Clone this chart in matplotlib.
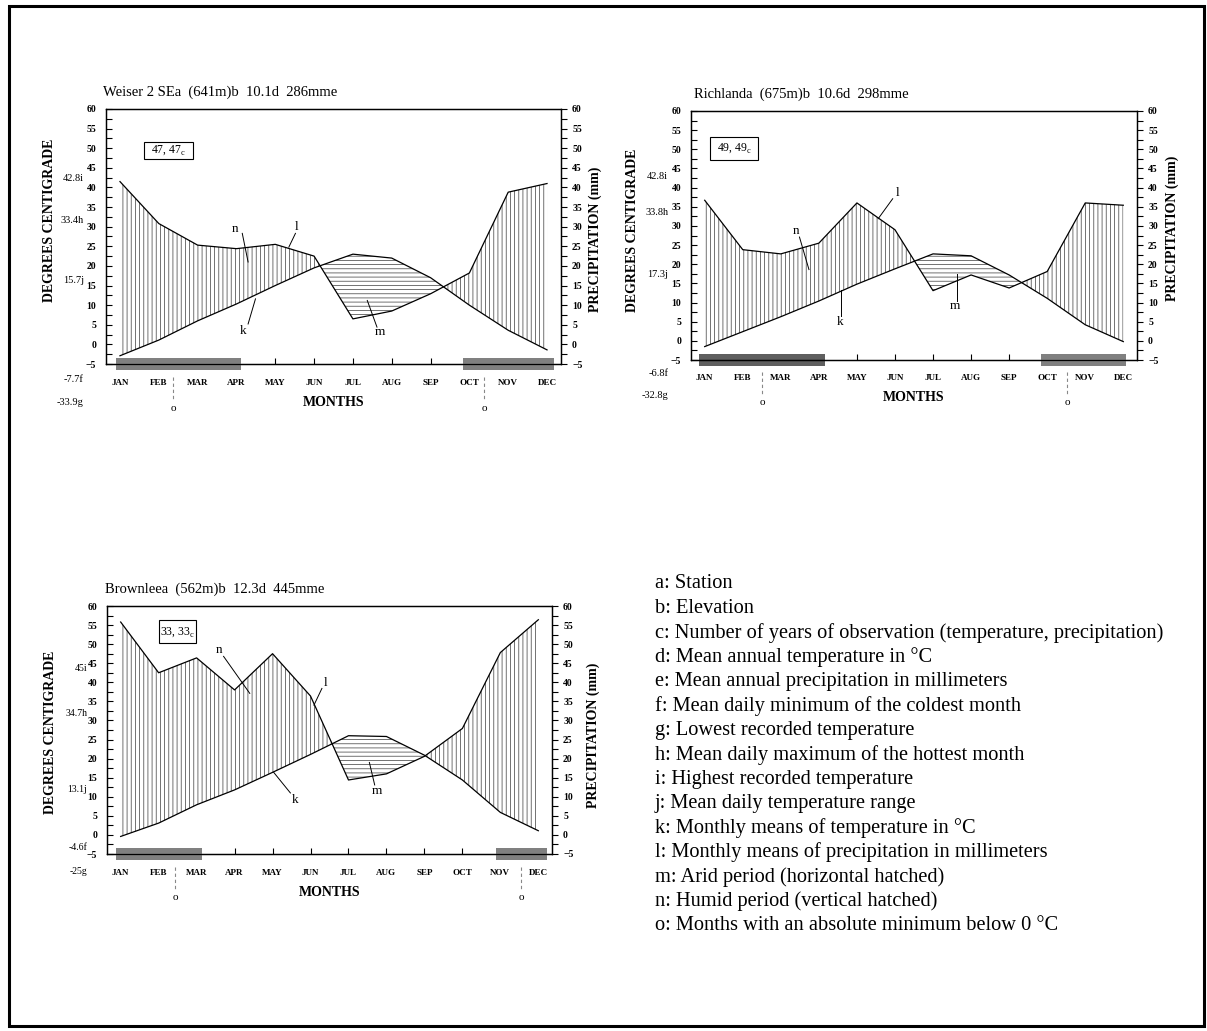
import matplotlib
matplotlib.use('Agg')
import matplotlib.pyplot as plt
from matplotlib.ticker import MultipleLocator
from matplotlib.patches import Rectangle
import numpy as np

plt.rcParams['font.family'] = ['Liberation Serif', 'DejaVu Serif']
plt.rcParams['mathtext.fontset'] = 'custom'
plt.rcParams['mathtext.rm'] = 'Liberation Serif'
plt.rcParams['hatch.linewidth'] = 0.6

W, H = 1207, 1031

# ---------------- data ----------------
months = ['JAN', 'FEB', 'MAR', 'APR', 'MAY', 'JUN', 'JUL', 'AUG', 'SEP', 'OCT', 'NOV', 'DEC']

weiser_temp = [-2.9, 1.1, 6.0, 10.3, 15.0, 19.5, 23.0, 22.0, 17.0, 10.0, 3.6, -1.4]
weiser_precip = [41.5, 30.8, 25.3, 24.4, 25.5, 22.5, 6.5, 8.5, 12.9, 18.2, 38.8, 41.0]
weiser_title = "Weiser 2 SEa  (641m)b  10.1d  286mme"
weiser_years = "47, 47"
weiser_side = ["42.8i", "33.4h", "15.7j", "-7.7f", "-33.9g"]

richland_temp = [-1.5, 2.4, 6.3, 10.4, 14.8, 18.8, 22.7, 22.2, 17.2, 11.1, 4.2, -0.2]
richland_precip = [36.7, 23.8, 22.7, 25.5, 36.0, 29.0, 13.1, 17.2, 13.8, 18.1, 36.0, 35.4]
richland_title = "Richlanda  (675m)b  10.6d  298mme"
richland_years = "49, 49"
richland_side = ["42.8i", "33.8h", "17.3j", "-6.8f", "-32.8g"]

brownlee_temp = [-0.4, 3.1, 7.9, 11.8, 16.4, 21.1, 26.0, 25.8, 20.9, 14.4, 5.9, 1.1]
brownlee_precip = [55.8, 42.5, 46.4, 38.0, 47.5, 36.4, 14.4, 16.0, 20.6, 27.9, 47.8, 56.4]
brownlee_title = "Brownleea  (562m)b  12.3d  445mme"
brownlee_years = "33, 33"
brownlee_side = ["45i", "34.7h", "13.1j", "-4.6f", "-25g"]

legend_lines = [
    "a: Station",
    "b: Elevation",
    "c: Number of years of observation (temperature, precipitation)",
    "d: Mean annual temperature in \u00b0C",
    "e: Mean annual precipitation in millimeters",
    "f: Mean daily minimum of the coldest month",
    "g: Lowest recorded temperature",
    "h: Mean daily maximum of the hottest month",
    "i: Highest recorded temperature",
    "j: Mean daily temperature range",
    "k: Monthly means of temperature in \u00b0C",
    "l: Monthly means of precipitation in millimeters",
    "m: Arid period (horizontal hatched)",
    "n: Humid period (vertical hatched)",
    "o: Months with an absolute minimum below 0 \u00b0C",
]

fig = plt.figure(figsize=(W / 100, H / 100), dpi=100)


def rect_px(l, r, t, b):
    return [l / W, 1 - b / H, (r - l) / W, (b - t) / H]


def draw_chart(rect, title, temp, precip, years, box, side, side_x, side_y, side_fs,
               bars, markers, annots, lab_pos, label_y, dark_first=False):
    ax = fig.add_axes(rect)
    x = np.arange(12)
    t = np.array(temp, float)
    p = np.array(precip, float)
    ax.set_xlim(-0.36, 11.36)
    ax.set_ylim(-5, 60)
    hc = '#5a5a5a'
    ax.fill_between(x, t, p, where=p >= t, interpolate=True, facecolor='none',
                    edgecolor=hc, hatch='||||', linewidth=0, zorder=1)
    ax.fill_between(x, t, p, where=t >= p, interpolate=True, facecolor='none',
                    edgecolor=hc, hatch='----', linewidth=0, zorder=1)
    ax.plot(x, t, color='black', lw=0.9, zorder=2)
    ax.plot(x, p, color='black', lw=0.9, zorder=2)

    ax.yaxis.set_major_locator(MultipleLocator(5))
    ax.yaxis.set_minor_locator(MultipleLocator(2.5))
    ax.tick_params(axis='y', which='both', direction='in', length=4, width=0.8,
                   labelsize=7, pad=7)
    ax.set_xticks(x)
    ax.set_xticklabels([])
    ax.tick_params(axis='x', direction='in', length=4, width=0.8)
    for lab in ax.get_yticklabels():
        lab.set_fontweight('bold')
    for s in ax.spines.values():
        s.set_linewidth(0.9)

    ax2 = ax.twinx()
    ax2.set_ylim(-5, 60)
    ax2.yaxis.set_major_locator(MultipleLocator(5))
    ax2.yaxis.set_minor_locator(MultipleLocator(2.5))
    ax2.tick_params(axis='y', which='both', direction='out', length=4, width=0.8,
                    labelsize=7, pad=4)
    for lab in ax2.get_yticklabels():
        lab.set_fontweight('bold')
    for s in ax2.spines.values():
        s.set_linewidth(0.9)

    # title
    ax.text(lab_pos[0], 64.3, title, fontsize=10.5, ha='left', va='center', clip_on=False)
    # years box
    bx0, bx1, by0, by1 = box
    ax.add_patch(Rectangle((bx0, by0), bx1 - bx0, by1 - by0, facecolor='white',
                           edgecolor='black', lw=0.8, zorder=5))
    ax.text((bx0 + bx1) / 2, (by0 + by1) / 2, years + r"$_{\rm c}$", fontsize=8.5,
            ha='center', va='center', zorder=6)
    # side annotations
    for s, yy in zip(side, side_y):
        ax.text(side_x, yy, s, fontsize=side_fs, ha='right', va='center', clip_on=False)
    # month labels
    for i, m in enumerate(months):
        ax.text(i, label_y, m, fontsize=6.5, fontweight='bold', ha='center',
                va='center', clip_on=False)
    ax.text(5.5, label_y - 5.0, 'MONTHS', fontsize=10, fontweight='bold',
            ha='center', va='center', clip_on=False)
    # frost bars
    for j, (b0, b1) in enumerate(bars):
        col = '#5f5f5f' if (dark_first and j == 0) else '#808080'
        z = 2 if (dark_first and j == 0) else 3
        ax.add_patch(Rectangle((b0, -6.6), b1 - b0, 3.2, facecolor=col, edgecolor='none',
                               clip_on=False, zorder=z))
    # frost markers
    for mx in markers:
        ax.plot([mx, mx], [label_y + 1.6, label_y - 4.4], color='#888888', lw=0.8,
                linestyle=(0, (3, 2.5)), clip_on=False)
        ax.text(mx, label_y - 6.4, 'o', fontsize=8, ha='center', va='center',
                clip_on=False)
    # labelled leaders
    for lab, tx, ty, x0, y0, x1, y1 in annots:
        ax.text(tx, ty, lab, fontsize=9.5, ha='center', va='center', zorder=6)
        ax.plot([x0, x1], [y0, y1], color='black', lw=0.7, zorder=6)
    # axis titles
    ax.text(lab_pos[1], lab_pos[2], 'DEGREES CENTIGRADE', transform=ax.transAxes,
            rotation=90, fontsize=10, fontweight='bold', ha='center', va='center')
    ax.text(lab_pos[3], lab_pos[4], 'PRECIPITATION (mm)', transform=ax.transAxes,
            rotation=90, fontsize=10, fontweight='bold', ha='center', va='center')
    return ax


# Weiser
draw_chart(rect_px(106, 561, 109, 364), weiser_title, weiser_temp, weiser_precip,
           weiser_years, (0.62, 1.89, 47.2, 51.7), weiser_side, -0.93,
           [42.4, 31.7, 16.4, -8.9, -14.7], 7.5,
           [(-0.11, 3.12), (8.84, 11.19)], [1.37, 9.38],
           [('n', 2.96, 29.5, 3.15, 28.3, 3.3, 21.0),
            ('l', 4.56, 29.8, 4.52, 28.3, 4.35, 24.8),
            ('k', 3.18, 3.5, 3.3, 5.2, 3.49, 11.6),
            ('m', 6.69, 3.1, 6.62, 4.4, 6.37, 11.2)],
           (-0.44, -0.125, 0.565, 1.075, 0.49), -9.85)

# Richland
draw_chart(rect_px(691, 1137, 111, 360), richland_title, richland_temp, richland_precip,
           richland_years, (0.15, 1.41, 47.1, 53.3), richland_side, -0.96,
           [42.8, 33.6, 17.3, -8.4, -14.2], 7.5,
           [(-0.15, 3.15), (8.84, 11.08)], [1.51, 9.52],
           [('n', 2.41, 28.6, 2.49, 27.1, 2.74, 18.6),
            ('l', 5.07, 38.6, 4.94, 37.1, 4.56, 31.9),
            ('k', 3.57, 5.0, 3.59, 6.6, 3.59, 13.3),
            ('m', 6.57, 9.0, 6.64, 10.4, 6.64, 17.5)],
           (-0.28, -0.132, 0.52, 1.078, 0.53), -9.7, dark_first=True)

# Brownlee
draw_chart(rect_px(107, 552, 606, 854), brownlee_title, brownlee_temp, brownlee_precip,
           brownlee_years, (1.01, 1.98, 50.2, 56.3), brownlee_side, -0.88,
           [43.7, 31.7, 11.8, -3.4, -9.7], 7,
           [(-0.12, 2.15), (9.88, 11.23)], [1.44, 10.55],
           [('n', 2.59, 48.4, 2.71, 46.8, 3.4, 37.1),
            ('l', 5.4, 39.7, 5.3, 38.4, 5.09, 34.0),
            ('k', 4.6, 9.2, 4.47, 11.0, 4.03, 16.4),
            ('m', 6.75, 11.4, 6.69, 13.1, 6.55, 19.0)],
           (-0.41, -0.127, 0.49, 1.092, 0.48), -10.0)

# legend text
for i, line in enumerate(legend_lines):
    fig.text(655 / W, 1 - (584 + 24.4 * i) / H, line, fontsize=14.7, ha='left',
             va='center')

# outer frame
fig.patches.append(Rectangle((8.5 / W, 1 - 1026 / H), (1204 - 8.5) / W, (1026 - 5.5) / H,
                             transform=fig.transFigure, facecolor='none',
                             edgecolor='black', lw=2.2))

fig.savefig('out.png', dpi=100)
